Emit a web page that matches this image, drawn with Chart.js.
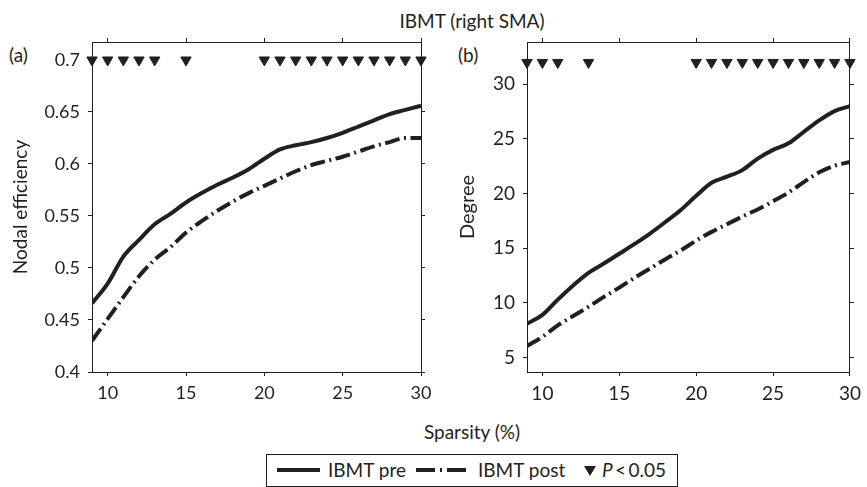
<!DOCTYPE html>
<html><head><meta charset="utf-8">
<script src="https://cdn.jsdelivr.net/npm/chart.js@4.4.1/dist/chart.umd.min.js"></script>
<style>
html,body{margin:0;padding:0;background:#fff;}
body{width:867px;height:487px;position:relative;overflow:hidden;font-family:Lato,"Open Sans",sans-serif;color:#231f20;}
.t{position:absolute;white-space:nowrap;line-height:1;}
canvas{position:absolute;top:0;}
#legend{position:absolute;left:266px;top:454px;width:410px;height:31px;border:1px solid #231f20;}
#legend span{position:absolute;top:5px;font-size:19px;line-height:1;white-space:nowrap;}
#legend svg{position:absolute;top:0;left:0;}
</style></head><body>
<div class="t" style="left:472px;top:20px;transform:translate(-50%,-50%);font-size:19px;">IBMT (right SMA)</div>
<div class="t" style="left:9px;top:45px;font-size:19px;">(a)</div>
<div class="t" style="left:458px;top:45px;font-size:19px;">(b)</div>
<canvas id="ca" width="440" height="400" style="left:0"></canvas>
<canvas id="cb" width="427" height="400" style="left:440px"></canvas>
<div class="t" style="left:472px;top:431px;transform:translate(-50%,-50%);font-size:19px;">Sparsity (%)</div>
<div id="legend">
  <svg width="410" height="31">
    <line x1="10" y1="15" x2="53" y2="15" stroke="#231f20" stroke-width="4"/>
    <line x1="149" y1="15" x2="199" y2="15" stroke="#231f20" stroke-width="4" stroke-dasharray="19,5,2,5,30"/>
    <polygon points="317,11 329,11 323,21" fill="#231f20"/>
  </svg>
  <span style="left:61px">IBMT pre</span>
  <span style="left:211px">IBMT post</span>
  <span style="left:335px"><i>P</i>&thinsp;&lt;&thinsp;0.05</span>
</div>
<script>
// ---- data ----
const sparsity = [9,10,11,12,13,14,15,16,17,18,19,20,21,22,23,24,25,26,27,28,29,30];
const xTicks = [10,15,20,25,30];
const effTicks = [0.4,0.45,0.5,0.55,0.6,0.65,0.7];
const degTicks = [5,10,15,20,25,30];
const effPre  = [0.466,0.485,0.511,0.527,0.542,0.552,0.563,0.572,0.580,0.587,0.595,0.605,0.614,0.618,0.621,0.625,0.630,0.636,0.642,0.648,0.652,0.656];
const effPost = [0.430,0.451,0.472,0.492,0.508,0.520,0.534,0.545,0.555,0.564,0.572,0.579,0.586,0.593,0.599,0.603,0.607,0.612,0.617,0.621,0.625,0.625];
const degPre  = [8.1,8.9,10.3,11.6,12.75,13.6,14.5,15.4,16.35,17.4,18.5,19.8,21.0,21.55,22.15,23.2,24.0,24.6,25.65,26.7,27.55,28.0];
const degPost = [6.05,6.9,7.95,8.8,9.65,10.55,11.4,12.3,13.15,14.0,14.8,15.7,16.5,17.2,17.9,18.55,19.3,20.1,21.05,21.95,22.55,22.9];
const effSig = [9,10,11,12,13,15,20,21,22,23,24,25,26,27,28,29,30];
const degSig = [9,10,11,13,20,21,22,23,24,25,26,27,28,29,30];
const effSigLevel = 0.7;
const degSigLevel = 32;

// ---- drawing ----
const INK = '#231f20';
const pts = (xs, ys) => xs.map((x, i) => ({x: x, y: ys[i]}));
const setTicks = arr => s => { s.ticks = arr.map(v => ({value: v})); };

function axis(pos, min, max, tickArr, size, extra) {
  const horiz = pos === 'top' || pos === 'bottom';
  const o = {
    type: 'linear', position: pos, min: min, max: max,
    afterBuildTicks: setTicks(tickArr),
    grid: {drawOnChartArea: false, drawTicks: true, tickLength: 4, color: INK, lineWidth: 1},
    border: {display: true, color: INK, width: 1},
    ticks: {display: false},
    afterFit: horiz ? (s => { s.height = size; }) : (s => { s.width = size; })
  };
  return Object.assign(o, extra || {});
}

function panel(id, pre, post, sigX, sigLevel, yTicks, yMin, yMax, yTitle, dims) {
  const tickFont = {family: 'Lato', size: dims.tickSize};
  new Chart(document.getElementById(id), {
    data: {
      datasets: [
        {type: 'line', label: 'IBMT pre', data: pts(sparsity, pre), borderColor: INK, borderWidth: 4,
         pointRadius: 0, cubicInterpolationMode: 'monotone', fill: false, borderCapStyle: 'butt'},
        {type: 'line', label: 'IBMT post', data: pts(sparsity, post), borderColor: INK, borderWidth: 4,
         borderDash: [15, 4.5, 2, 4.5], pointRadius: 0, cubicInterpolationMode: 'monotone', fill: false, borderCapStyle: 'butt'},
        {type: 'line', label: 'P<0.05', data: sigX.map(x => ({x: x, y: sigLevel})), showLine: false,
         pointStyle: 'triangle', rotation: 180, pointRadius: 6, pointBackgroundColor: INK,
         pointBorderColor: INK, pointBorderWidth: 1, clip: false}
      ]
    },
    options: {
      responsive: false, animation: false, devicePixelRatio: 1,
      layout: {padding: 0},
      plugins: {legend: {display: false}, tooltip: {enabled: false}, title: {display: false}},
      scales: {
        x: axis('bottom', 9, 30, xTicks, 28, {
          ticks: {display: true, font: tickFont, color: INK, padding: 6, maxRotation: 0, autoSkip: false}
        }),
        x2: axis('top', 9, 30, xTicks, 42),
        y: axis('left', yMin, yMax, yTicks, dims.left, {
          ticks: {display: true, font: tickFont, color: INK, padding: 8, autoSkip: false, callback: v => String(v)},
          title: {display: true, text: yTitle, font: {family: 'Lato', size: dims.titleSize}, color: INK,
                  padding: {top: dims.titlePad, bottom: 0}}
        }),
        y2: axis('right', yMin, yMax, yTicks, dims.right)
      }
    }
  });
}

panel('ca', effPre, effPost, effSig, effSigLevel, effTicks, 0.4, 0.7173, 'Nodal efficiency',
      {left: 92, right: 19, titlePad: 9, tickSize: 18, titleSize: 19});
panel('cb', degPre, degPost, degSig, degSigLevel, degTicks, 3.68, 33.87, 'Degree',
      {left: 87, right: 12, titlePad: 16, tickSize: 19, titleSize: 20});
</script>
</body></html>
